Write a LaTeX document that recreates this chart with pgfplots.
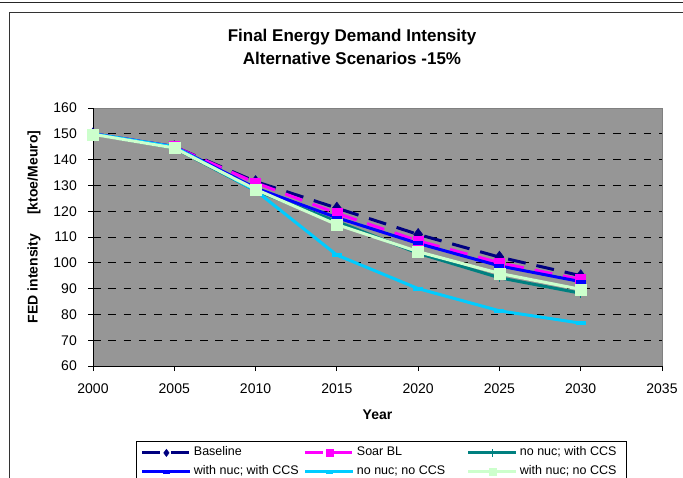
\documentclass[border=0pt]{standalone}
\usepackage{fontspec}
\setmainfont{Liberation Sans}
\usepackage{pgfplots}
\pgfplotsset{compat=1.18}
\definecolor{cNavy}{HTML}{000080}
\definecolor{cMag}{HTML}{FF00FF}
\definecolor{cTeal}{HTML}{008080}
\definecolor{cBlue}{HTML}{0000FF}
\definecolor{cCyan}{HTML}{00CCFF}
\definecolor{cGreen}{HTML}{CCFFCC}
\definecolor{cBg}{HTML}{969696}
\definecolor{cBorder}{HTML}{808080}
\begin{document}
\begin{tikzpicture}
\clip (0pt,0pt) rectangle (683pt,477pt);
\draw[line width=1.5pt, black!85] (0pt,474.3pt) -- (683pt,474.3pt);
\draw[line width=1.3pt, black!80] (9.3pt,-20pt) -- (9.3pt,464.7pt) -- (700pt,464.7pt);
\node[font=\fontsize{17}{23}\selectfont\bfseries, align=center] at (352pt,430pt) {Final Energy Demand Intensity\\Alternative Scenarios -15\%};
\begin{axis}[
  at={(93pt,111pt)}, anchor=south west,
  scale only axis, width=569pt, height=258pt,
  xmin=2000, xmax=2035, ymin=60, ymax=160,
  xtick={2000,2005,...,2035}, ytick={60,70,...,160},
  extra y ticks={70,80,...,150}, extra y tick labels={},
  extra y tick style={grid=major},
  major grid style={black, line width=0.8pt, dash pattern=on 7.5pt off 7.8pt},
  axis x line*=bottom, axis y line*=left,
  axis line style={black, line width=1pt, -},
  axis background/.style={fill=cBg, draw=cBorder, line width=1pt},
  tick align=outside, major tick length=5pt, tick style={black, line width=1pt},
  /pgf/number format/1000 sep={},
  /pgf/number format/assume math mode=true,
  ticklabel style={font=\fontsize{14}{16}\selectfont},
  xticklabel style={anchor=north, inner sep=0pt, yshift=-13pt},
  yticklabel style={anchor=east, inner sep=0pt, xshift=-11pt},
  xlabel={Year},
  ylabel={FED intensity\hspace{19pt}[ktoe/Meuro]},
  every axis x label/.style={at={(axis description cs:0.5,-0.19)}, anchor=center, font=\fontsize{14}{16}\selectfont\bfseries},
  every axis y label/.style={at={(axis description cs:-0.1037,0.539)}, rotate=90, anchor=center, font=\fontsize{14}{16}\selectfont\bfseries},
  legend columns=3,
  legend image code/.code={\draw[mark repeat=2, mark phase=2, #1] plot coordinates {(0pt,0pt) (24pt,0pt) (48pt,0pt)};},
  legend image post style={mark size=3.6pt},
  legend style={at={(axis description cs:0.0756,-0.2907)}, anchor=north west,
    draw=black, line width=0.8pt, fill=white,
    font=\fontsize{12.5}{14}\selectfont,
    inner xsep=4.5pt, inner ysep=5.5pt, row sep=7pt,
    nodes={inner sep=0pt, text height=9pt, text depth=3pt},
    /tikz/every odd column/.style={column sep=2pt},
    /tikz/every even column/.style={column sep=0pt}},
  legend cell align=left,
]
\addplot[cNavy, line width=3pt, dash pattern=on 18pt off 11pt, mark=diamond*, mark size=6pt,
  mark options={solid, fill=cNavy, draw=cNavy, line width=0.5pt}]
  coordinates {(2000,150) (2005,145) (2010,131.5) (2015,121.2) (2020,111) (2025,102.2) (2030,95)};
\addlegendentry{\makebox[110pt][l]{Baseline}}
\addplot[cMag, line width=3pt, dash pattern=on 18pt off 11pt, mark=square*, mark size=5pt,
  mark options={solid, fill=cMag, draw=cMag, line width=0.5pt}]
  coordinates {(2000,150) (2005,145) (2010,131) (2015,119.2) (2020,108.5) (2025,100) (2030,93.5)};
\addlegendentry{\makebox[110pt][l]{Soar BL}}
\addplot[cTeal, line width=3pt, mark=+, mark size=4.5pt,
  mark options={solid, draw=cTeal, line width=1.5pt}]
  coordinates {(2000,150) (2005,144.5) (2010,128) (2015,116) (2020,103.7) (2025,94.2) (2030,88.2)};
\addlegendentry{\makebox[102pt][l]{no nuc; with CCS}}
\addplot[cBlue, line width=3pt, mark=-, mark size=5pt,
  mark options={solid, draw=cBlue, line width=4pt}]
  coordinates {(2000,150) (2005,145) (2010,129) (2015,117.5) (2020,107.5) (2025,98.8) (2030,92.7)};
\addlegendentry{\makebox[110pt][l]{with nuc; with CCS}}
\addplot[cCyan, line width=3pt, mark=-, mark size=5pt,
  mark options={solid, draw=cCyan, line width=4pt}]
  coordinates {(2000,150) (2005,145) (2010,128) (2015,103) (2020,90) (2025,81.4) (2030,76.6)};
\addlegendentry{\makebox[110pt][l]{no nuc; no CCS}}
\addplot[cGreen, line width=3pt, mark=square*, mark size=5.5pt,
  mark options={solid, fill=cGreen, draw=cGreen, line width=0.5pt}]
  coordinates {(2000,149.8) (2005,144.5) (2010,128.5) (2015,114.8) (2020,104.3) (2025,95.9) (2030,89.7)};
\addlegendentry{\makebox[102pt][l]{with nuc; no CCS}}
\end{axis}
\end{tikzpicture}
\end{document}
